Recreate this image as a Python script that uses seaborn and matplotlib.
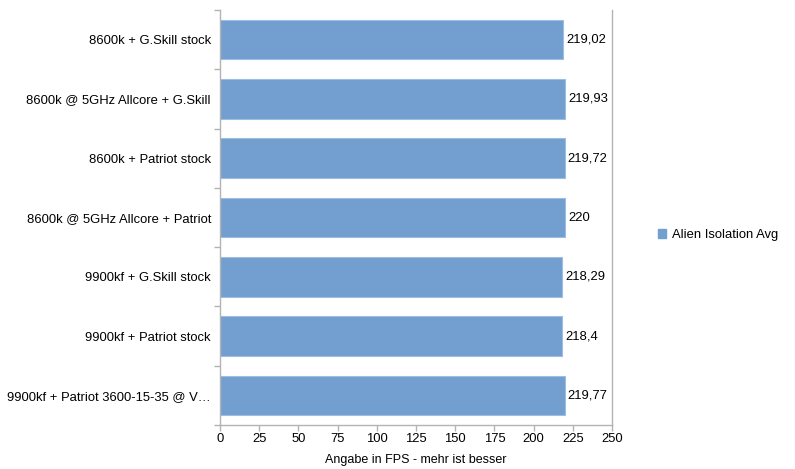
import matplotlib
matplotlib.use("Agg")
import matplotlib.pyplot as plt
import seaborn as sns
import pandas as pd
from matplotlib.patches import Patch

categories = [
    "8600k + G.Skill stock",
    "8600k @ 5GHz Allcore + G.Skill",
    "8600k + Patriot stock",
    "8600k @ 5GHz Allcore + Patriot",
    "9900kf + G.Skill stock",
    "9900kf + Patriot stock",
    "9900kf + Patriot 3600-15-35 @ V…",
]
values = [219.02, 219.93, 219.72, 220, 218.29, 218.4, 219.77]
value_labels = ["219,02", "219,93", "219,72", "220", "218,29", "218,4", "219,77"]
x_ticks = [0, 25, 50, 75, 100, 125, 150, 175, 200, 225, 250]
series_name = "Alien Isolation Avg"
x_label = "Angabe in FPS - mehr ist besser"

sns.set_theme(style="white")
plt.rcParams["font.family"] = ["Liberation Sans", "DejaVu Sans"]
plt.rcParams["text.color"] = "black"
plt.rcParams["xtick.color"] = "black"
plt.rcParams["ytick.color"] = "black"
plt.rcParams["axes.labelcolor"] = "black"

df = pd.DataFrame({"cat": categories, "val": values})

fig = plt.figure(figsize=(7.95, 4.69), dpi=100)
ax = fig.add_axes([220 / 795, 44 / 469, 392 / 795, 415 / 469])

color = "#729fcf"
sns.barplot(data=df, x="val", y="cat", orient="h", color=color, saturation=1,
            width=0.667, edgecolor="#9dbde2", linewidth=0.8, ax=ax)

fs = 9.4
ax.set_xlim(0, 250)
ax.set_ylim(len(categories) - 0.5, -0.5)
ax.set_xticks(x_ticks)
ax.set_xticklabels([str(t) for t in x_ticks])
ax.set_xlabel(x_label, fontsize=9, labelpad=6)
ax.set_ylabel("")

ax.set_yticks([i for i in range(len(categories))])
ax.set_yticklabels(categories)
ax.tick_params(axis="y", length=0, pad=6.5, labelsize=fs, labelcolor="black")
ax.set_yticks([i - 0.5 for i in range(len(categories) + 1)], minor=True)
ax.tick_params(axis="y", which="minor", length=4, color="#b3b3b3", width=1, left=True)
ax.tick_params(axis="x", length=4, color="#b3b3b3", width=1, bottom=True, labelsize=fs,
               pad=2, labelcolor="black")

for s in ["left", "bottom", "right"]:
    ax.spines[s].set_visible(True)
    ax.spines[s].set_color("#b3b3b3")
    ax.spines[s].set_linewidth(1)
ax.spines["top"].set_visible(False)

for i, (v, lab) in enumerate(zip(values, value_labels)):
    ax.annotate(lab, xy=(v, i), xytext=(2.2, 0), textcoords="offset points",
                va="center", ha="left", fontsize=fs, color="black")

handle = Patch(facecolor=color, edgecolor=color)
fig.legend([handle], [series_name], loc="center left", bbox_to_anchor=(646 / 795, 1 - 235 / 469),
           frameon=False, fontsize=fs, handlelength=0.6, handleheight=0.6, handletextpad=0.5)

fig.savefig("out.png", dpi=100)
